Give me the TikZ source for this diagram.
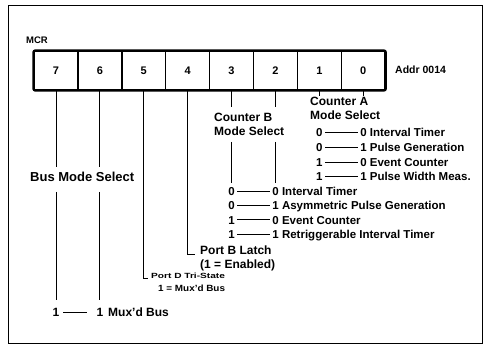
\documentclass[tikz,border=0pt]{standalone}
\usepackage{fontspec}
\setmainfont{Liberation Sans}
\usepackage{graphicx}
\begin{document}
\begin{tikzpicture}[x=1pt,y=-1pt,
  bitbox/.style={draw, line width=1.5pt, minimum width=43.9pt, minimum height=39pt, inner sep=0pt, font=\fontsize{11}{13}\selectfont\bfseries},
  conn/.style={line width=0.9pt},
  lbl/.style={font=\fontsize{12}{14}\selectfont\bfseries, inner sep=0pt, text height=8.6pt, text depth=0pt, anchor=base west},
  tbl/.style={font=\fontsize{11.5}{13}\selectfont\bfseries, inner sep=0pt, text height=8.3pt, text depth=0pt},
  frame/.style={line width=0.8pt}]
\useasboundingbox (0,0) rectangle (488,345);
\draw[frame] (8,5) rectangle (482,343.5);

% register
\node[lbl, font=\fontsize{9.5}{11}\selectfont\bfseries, text height=6.8pt] (mcr) at (26,43.5) {MCR};
\foreach \b/\x in {7/55.95,6/99.85,5/143.75,4/187.65,3/231.55,2/275.45,1/319.35,0/363.25}
  \node[bitbox] (b\b) at (\x,70.5) {\b};
\draw[line width=1.8pt, rounded corners=2pt] (b7.north west) rectangle (b0.south east);
\node[lbl, font=\fontsize{10.5}{12}\selectfont\bfseries] (addr) at (395,73.8) {Addr 0014};

% Counter A
\node[lbl] (cA1) at (310,105.3) {Counter A};
\node[lbl] (cA2) at (310,119.3) {Mode Select};
\draw[conn] (b1.south) -- (b1.south |- cA1.north);
\draw[conn] (b0.south) -- (b0.south |- cA1.north);
\foreach \p/\q/\t [count=\i] in {0/0/Interval Timer,0/1/Pulse Generation,1/0/Event Counter,1/1/Pulse Width Meas.}{
  \pgfmathsetmacro\yy{137+14.66*(\i-1)}
  \node[tbl, anchor=base] (a\i) at (319.35,\yy) {\p};
  \node[tbl, anchor=base west] (at\i) at (360.05,\yy) {\q\ \t};
  \draw[conn] ([xshift=2.5pt]a\i.east) -- ([xshift=-2.5pt]at\i.west);
}

% Counter B
\node[lbl] (cB1) at (214,121.3) {Counter B};
\node[lbl] (cB2) at (214,135.3) {Mode Select};
\foreach \p/\q/\t [count=\i] in {0/0/Interval Timer,0/1/Asymmetric Pulse Generation,1/0/Event Counter,1/1/Retriggerable Interval Timer}{
  \pgfmathsetmacro\yy{195.2+14.4*(\i-1)}
  \node[tbl, anchor=base] (q\i) at (231.55,\yy) {\p};
  \node[tbl, anchor=base west] (qt\i) at (272.25,\yy) {\q\ \t};
  \draw[conn] ([xshift=2.5pt]q\i.east) -- ([xshift=-2.5pt]qt\i.west);
}
\coordinate (cBtop) at ([yshift=5.5pt]cB1.north);
\coordinate (cBbot) at ([yshift=-6.5pt]cB2.south);
\coordinate (cBend) at ([yshift=4pt]q1.north);
\draw[conn] (b3.south) -- (b3.south |- cBtop);
\draw[conn] (b2.south) -- (b2.south |- cBtop);
\draw[conn] (b3.south |- cBbot) -- (b3.south |- cBend);
\draw[conn] (b2.south |- cBbot) -- (b2.south |- cBend);

% Port B latch
\node[lbl] (pB1) at (200,254.3) {Port B Latch};
\node[lbl] (pB2) at (200,268.5) {(1 = Enabled)};
\coordinate (pBc) at ([xshift=-5pt]pB1.base west);
\draw[conn] (b4.south) |- (pBc);

% Port D tri-state
\node[inner sep=0pt, anchor=base west] (pD1) at (151,278) {\scalebox{1.35}[1]{\fontsize{7.5}{9}\selectfont\bfseries Port D Tri-State}};
\node[inner sep=0pt, anchor=base west] (pD2) at (158,291.3) {\scalebox{1.1}[1]{\fontsize{9}{11}\selectfont\bfseries 1 = Mux'd Bus}};
\coordinate (pDc) at ([xshift=-3pt]pD1.base west);
\draw[conn] (b5.south) |- (pDc);

% Bus mode select
\node[lbl, font=\fontsize{13}{15}\selectfont\bfseries, text height=9.3pt] (bms) at (30,181.7) {Bus Mode Select};
\coordinate (bmsT) at ([yshift=5pt]bms.north);
\coordinate (bmsB) at ([yshift=-10pt]bms.south);
\node[tbl, anchor=base, font=\fontsize{12}{14}\selectfont\bfseries] (m7) at (55.95,316.3) {1};
\node[tbl, anchor=base, font=\fontsize{12}{14}\selectfont\bfseries] (m6) at (99.85,316.3) {1};
\node[lbl] (mux) at (108,316.3) {Mux'd Bus};
\coordinate (m7T) at ([yshift=8pt]m7.north);
\coordinate (m6T) at ([yshift=8pt]m6.north);
\draw[conn] (b7.south) -- (b7.south |- bmsT);
\draw[conn] (b6.south) -- (b6.south |- bmsT);
\draw[conn] (b7.south |- bmsB) -- (m7T);
\draw[conn] (b6.south |- bmsB) -- (m6T);
\draw[conn] ([xshift=4pt]m7.east) -- ([xshift=-9pt]m6.west);
\end{tikzpicture}
\end{document}
